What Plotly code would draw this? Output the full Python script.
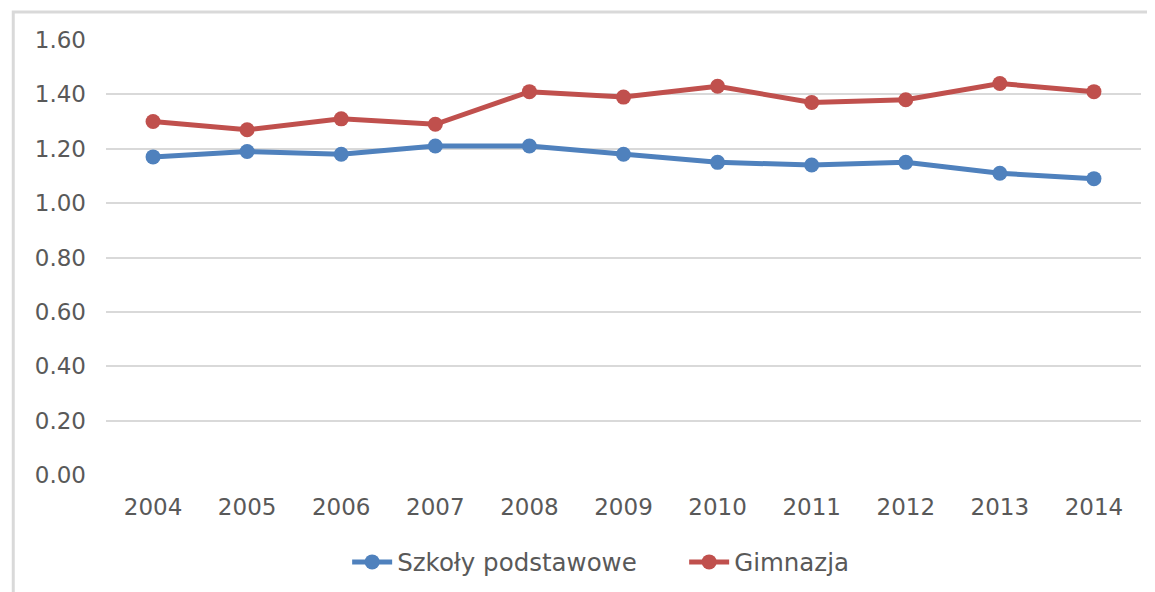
import plotly.graph_objects as go

years = ["2004", "2005", "2006", "2007", "2008", "2009", "2010", "2011", "2012", "2013", "2014"]
szkoly_podstawowe = [1.17, 1.19, 1.18, 1.21, 1.21, 1.18, 1.15, 1.14, 1.15, 1.11, 1.09]
gimnazja = [1.30, 1.27, 1.31, 1.29, 1.41, 1.39, 1.43, 1.37, 1.38, 1.44, 1.41]
y_ticks = [0.0, 0.2, 0.4, 0.6, 0.8, 1.0, 1.2, 1.4, 1.6]
y_tick_labels = ["0.00", "0.20", "0.40", "0.60", "0.80", "1.00", "1.20", "1.40", "1.60"]

BLUE = "#4f81bd"
RED = "#c0504d"
TXT = "#595959"
FONT = "DejaVu Sans"

fig = go.Figure()
fig.add_trace(go.Scatter(
    x=years, y=szkoly_podstawowe, name="Szkoły podstawowe",
    mode="lines+markers",
    line=dict(color=BLUE, width=5),
    marker=dict(color=BLUE, size=15),
))
fig.add_trace(go.Scatter(
    x=years, y=gimnazja, name="Gimnazja",
    mode="lines+markers",
    line=dict(color=RED, width=5),
    marker=dict(color=RED, size=15),
))

fig.update_layout(
    width=1155, height=592,
    margin=dict(l=98, r=22, t=32, b=125),
    paper_bgcolor="white", plot_bgcolor="white",
    font=dict(family=FONT, size=23, color=TXT),
    showlegend=True,
    legend=dict(
        orientation="h", x=0.233, xanchor="left", y=-0.2, yanchor="middle",
        font=dict(family=FONT, size=24.5, color=TXT),
        bgcolor="rgba(0,0,0,0)",
        entrywidth=282, entrywidthmode="pixels",
        itemwidth=40, tracegroupgap=0,
    ),
    xaxis=dict(
        type="category", range=[-0.5, 10.5],
        showgrid=False, zeroline=False, showline=False,
        ticks="", ticklabelstandoff=16,
        tickfont=dict(family=FONT, size=23, color=TXT),
    ),
    yaxis=dict(
        range=[0, 1.6], tickvals=y_ticks, ticktext=y_tick_labels,
        showgrid=True, gridcolor="#d9d9d9", gridwidth=1.5,
        zeroline=False, showline=False, ticks="",
        ticklabelstandoff=19,
        tickfont=dict(family=FONT, size=23, color=TXT),
    ),
    shapes=[dict(
        type="rect", xref="paper", yref="paper",
        x0=-0.0896, x1=1.2, y0=-0.5, y1=1.0644,
        line=dict(color="#d9d9d9", width=3), fillcolor="rgba(0,0,0,0)",
        layer="below",
    )],
)

fig.write_html("out.html")
